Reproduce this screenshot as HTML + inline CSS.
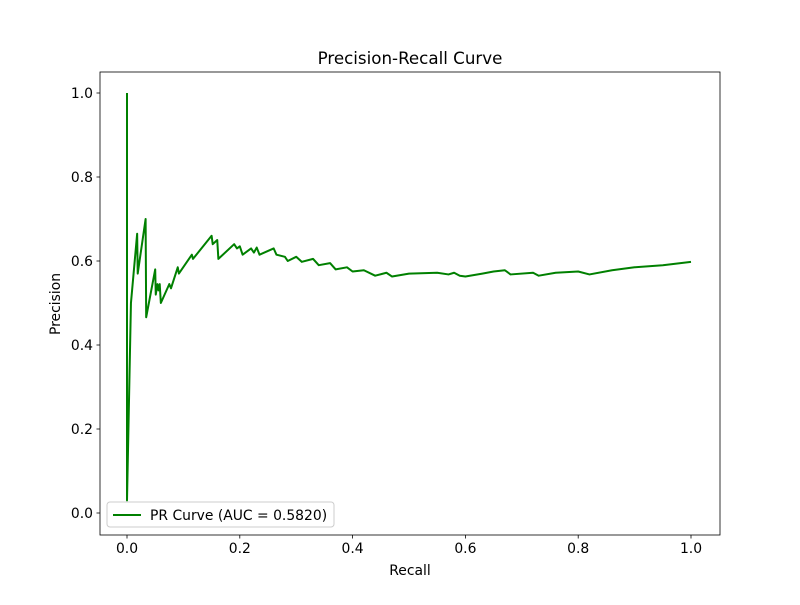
<!DOCTYPE html>
<html><head><meta charset="utf-8"><style>
body{margin:0;background:#fff}
svg text{font-family:"DejaVu Sans","Liberation Sans",sans-serif;fill:#000}
</style></head><body>
<svg id="chart" width="800" height="600" xmlns="http://www.w3.org/2000/svg">
<rect width="800" height="600" fill="#fff"/>
<text x="410" y="64" font-size="16.7" text-anchor="middle">Precision-Recall Curve</text>
<g id="xt"></g>
<g id="yt"></g>
<polyline id="curve" fill="none" stroke="#008000" stroke-width="2" stroke-linejoin="round"/>
<rect x="100" y="72" width="620" height="463" fill="none" stroke="#000" stroke-width="0.8"/>
<text x="410" y="575" font-size="13.9" text-anchor="middle">Recall</text>
<text transform="translate(60,304) rotate(-90)" font-size="13.9" text-anchor="middle">Precision</text>
<g>
<rect x="107" y="502" width="227" height="25" rx="3" fill="#fff" fill-opacity="0.8" stroke="#ccc" stroke-width="1"/>
<line x1="113" y1="515" x2="141" y2="515" stroke="#008000" stroke-width="2"/>
<text x="150" y="520" font-size="13.9">PR Curve (AUC = 0.5820)</text>
</g>
</svg>
<script>
const recall=[0,0,0.007,0.018,0.019,0.033,0.034,0.05,0.051,0.054,0.056,0.058,0.06,0.07,0.075,0.078,0.09,0.092,0.115,0.117,0.15,0.152,0.16,0.162,0.19,0.195,0.2,0.205,0.22,0.225,0.23,0.235,0.26,0.265,0.28,0.285,0.3,0.31,0.33,0.34,0.36,0.37,0.39,0.40,0.42,0.44,0.46,0.47,0.5,0.55,0.57,0.58,0.59,0.6,0.63,0.65,0.67,0.68,0.72,0.73,0.76,0.8,0.82,0.86,0.9,0.95,1.0];
const precision=[1.0,0.03,0.5,0.665,0.57,0.70,0.466,0.58,0.52,0.545,0.53,0.545,0.50,0.53,0.545,0.535,0.585,0.57,0.615,0.605,0.66,0.64,0.65,0.605,0.64,0.63,0.635,0.615,0.63,0.62,0.632,0.615,0.63,0.615,0.61,0.60,0.61,0.598,0.605,0.59,0.595,0.58,0.585,0.575,0.578,0.565,0.572,0.563,0.57,0.572,0.568,0.572,0.565,0.563,0.57,0.575,0.578,0.568,0.572,0.565,0.572,0.575,0.568,0.578,0.585,0.59,0.598];
const xTicks=[0,0.2,0.4,0.6,0.8,1.0];
const yTicks=[0,0.2,0.4,0.6,0.8,1.0];
const sx=v=>127+v*564, sy=v=>513-v*420;
const NS="http://www.w3.org/2000/svg";
const c=document.getElementById('curve');
c.setAttribute('points',recall.map((r,i)=>sx(r)+','+sy(precision[i])).join(' '));
const xt=document.getElementById('xt'), yt=document.getElementById('yt');
xTicks.forEach(t=>{
  const l=document.createElementNS(NS,'line');
  
  
  l.setAttribute('x1',sx(t));l.setAttribute('x2',sx(t));l.setAttribute('y1',535);l.setAttribute('y2',538.5);l.setAttribute('stroke','#000');l.setAttribute('stroke-width','0.8');
  xt.appendChild(l);
  const tx=document.createElementNS(NS,'text');
  
  
  tx.setAttribute('x',sx(t));tx.setAttribute('y',553);tx.setAttribute('font-size','13.9');tx.setAttribute('text-anchor','middle');
  tx.textContent=t.toFixed(1);xt.appendChild(tx);
});
yTicks.forEach(t=>{
  const l=document.createElementNS(NS,'line');
  
  
  l.setAttribute('x1',96.5);l.setAttribute('x2',100);l.setAttribute('y1',sy(t));l.setAttribute('y2',sy(t));l.setAttribute('stroke','#000');l.setAttribute('stroke-width','0.8');
  yt.appendChild(l);
  const tx=document.createElementNS(NS,'text');
  
  
  tx.setAttribute('x',93);tx.setAttribute('y',sy(t)+5);tx.setAttribute('font-size','13.9');tx.setAttribute('text-anchor','end');
  tx.textContent=t.toFixed(1);yt.appendChild(tx);
});
</script>
</body></html>
